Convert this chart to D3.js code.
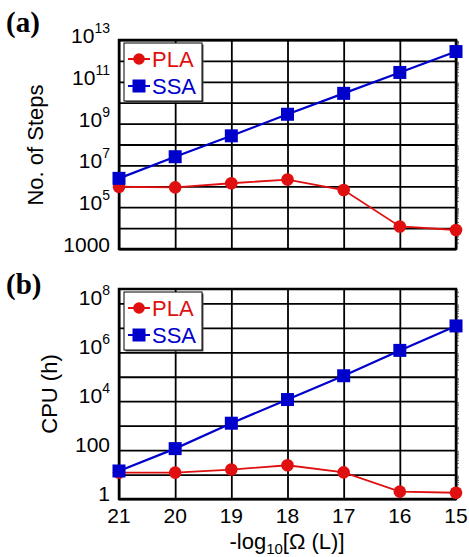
<!DOCTYPE html>
<html><head><meta charset="utf-8">
<script src="https://cdn.jsdelivr.net/npm/d3@7"></script>
<style>body{margin:0;background:#fff}svg{display:block}text{font-family:"Liberation Sans",Arial,sans-serif}</style>
</head><body><svg id="c" width="469" height="557"></svg>
<script>
const xCats = [21, 20, 19, 18, 17, 16, 15];
const plaSteps = [9.5e5, 8.9e5, 1.4e6, 2.1e6, 6.6e5, 1.2e4, 8.1e3];
const ssaSteps = [2.4e6, 2.6e7, 2.6e8, 2.8e9, 2.8e10, 2.8e11, 2.8e12];
const plaCpu = [12, 12, 16, 24, 12.3, 2.0, 1.8];
const ssaCpu = [14, 115, 1.26e3, 1.17e4, 1.1e5, 1.2e6, 1.2e7];
const stepsTickLabels = [[1e3, "1000", null], [1e5, "10", "5"], [1e7, "10", "7"], [1e9, "10", "9"], [1e11, "10", "11"], [1e13, "10", "13"]];
const cpuTickLabels = [[1, "1", null], [100, "100", null], [1e4, "10", "4"], [1e6, "10", "6"], [1e8, "10", "8"]];
const seriesNames = ["PLA", "SSA"];
const colors = {PLA: "#e01010", SSA: "#0000cc"};

const svg = d3.select("#c");
const x = d3.scaleLinear().domain([21, 15]).range([119, 456]);

function panel(opts) {
  const y = d3.scaleLog().domain(opts.domain).range(opts.range);
  const g = svg.append("g");
  const [yb, yt] = opts.range;
  const decades = d3.range(Math.ceil(Math.log10(opts.domain[0])), Math.floor(Math.log10(opts.domain[1])) + 1).map(e => Math.pow(10, e));
  g.append("g").attr("transform", "translate(119,0)")
    .call(d3.axisLeft(y).tickValues(decades).tickSize(-(456 - 119)).tickFormat(""))
    .call(s => s.select(".domain").remove())
    .call(s => s.selectAll(".tick line").attr("stroke", "#000").attr("stroke-width", 1.8));
  g.append("g").attr("transform", `translate(0,${yb})`)
    .call(d3.axisBottom(x).tickValues(xCats).tickSize(-(yb - yt)).tickFormat(""))
    .call(s => s.select(".domain").remove())
    .call(s => s.selectAll(".tick line").attr("stroke", "#000").attr("stroke-width", 1.8));
  const minors = [];
  decades.concat([decades[0] / 10]).forEach(d => { for (let k = 2; k < 10; k++) { const v = d * k; if (v > opts.domain[0] && v < opts.domain[1]) minors.push(v); } });
  g.append("g").attr("transform", "translate(456,0)")
    .call(d3.axisLeft(y).tickValues(minors).tickSize(3).tickFormat(""))
    .call(s => s.select(".domain").remove())
    .call(s => s.selectAll(".tick line").attr("stroke", "#666").attr("stroke-width", 1).attr("transform", "translate(3,0)"));
  g.append("rect").attr("x", 119).attr("y", yt).attr("width", 456 - 119).attr("height", yb - yt)
    .attr("fill", "none").attr("stroke", "#000").attr("stroke-width", 2.5);
  opts.ticks.forEach(([v, base, exp]) => {
    const t = g.append("text").attr("x", 110).attr("y", y(v) + opts.labelDy).attr("text-anchor", "end")
      .attr("font-size", 21).attr("fill", "#000").text(base);
    if (exp) t.append("tspan").attr("font-size", 14).attr("dy", -10).text(exp);
  });
  g.append("text").attr("transform", `translate(${opts.ylabX},${opts.ylabY}) rotate(-90)`)
    .attr("text-anchor", "middle").attr("font-size", 22).text(opts.ylabel);
  const data = {PLA: opts.pla, SSA: opts.ssa};
  ["PLA", "SSA"].forEach(name => {
    g.append("path").datum(data[name])
      .attr("d", d3.line().x((d, i) => x(xCats[i])).y(d => y(d)))
      .attr("fill", "none").attr("stroke", colors[name]).attr("stroke-width", name === "SSA" ? 2.2 : 1.8);
  });
  ["PLA", "SSA"].forEach(name => {
    const sel = g.selectAll(null).data(data[name]).enter();
    if (name === "PLA") sel.append("circle").attr("cx", (d, i) => x(xCats[i])).attr("cy", d => y(d)).attr("r", 6.3).attr("fill", colors.PLA);
    else sel.append("rect").attr("x", (d, i) => x(xCats[i]) - 6.5).attr("y", d => y(d) - 6.5).attr("width", 13).attr("height", 13).attr("fill", colors.SSA);
  });
  const lg = g.append("g").attr("transform", `translate(124,${opts.legY})`);
  lg.append("rect").attr("x", 1.5).attr("y", 1.5).attr("width", 78).attr("height", 58).attr("fill", "#555");
  lg.append("rect").attr("x", 0).attr("y", 0).attr("width", 78).attr("height", 58).attr("fill", "#fff").attr("stroke", "#000").attr("stroke-width", 1);
  seriesNames.forEach((name, i) => {
    const cy = 16 + i * 27;
    lg.append("line").attr("x1", 4).attr("x2", 26).attr("y1", cy).attr("y2", cy).attr("stroke", colors[name]).attr("stroke-width", 2);
    if (name === "PLA") lg.append("circle").attr("cx", 15).attr("cy", cy).attr("r", 5.8).attr("fill", colors[name]);
    else lg.append("rect").attr("x", 8.5).attr("y", cy - 6.5).attr("width", 13).attr("height", 13).attr("fill", colors[name]);
    lg.append("text").attr("x", 28).attr("y", cy + 8).attr("font-size", 22).attr("fill", colors[name]).text(name);
  });
  svg.append("text").attr("x", 6).attr("y", opts.panelY)
    .style("font-family", "'Liberation Serif','Times New Roman',serif")
    .attr("font-weight", "bold").attr("font-size", 29).text(opts.panel);
  return y;
}

panel({domain: [1e3, 1e13], range: [249, 40], ticks: stepsTickLabels, labelDy: 3, ylabel: "No. of Steps", ylabX: 43, ylabY: 145,
  pla: plaSteps, ssa: ssaSteps, legY: 43, panel: "(a)", panelY: 32});
panel({domain: [1, Math.pow(10, 8.59)], range: [499, 289], ticks: cpuTickLabels, labelDy: 2, ylabel: "CPU (h)", ylabX: 57, ylabY: 394,
  pla: plaCpu, ssa: ssaCpu, legY: 292, panel: "(b)", panelY: 294});

svg.append("g").selectAll("text").data(xCats).enter().append("text")
  .attr("x", d => x(d)).attr("y", 523).attr("text-anchor", "middle").attr("font-size", 21).text(d => d);
const xl = svg.append("text").attr("x", 287).attr("y", 549).attr("text-anchor", "middle").attr("font-size", 22);
xl.append("tspan").text("-log");
xl.append("tspan").attr("font-size", 15).attr("dy", 5).text("10");
xl.append("tspan").attr("dy", -5).text("[\u03A9 (L)]");
</script></body></html>
